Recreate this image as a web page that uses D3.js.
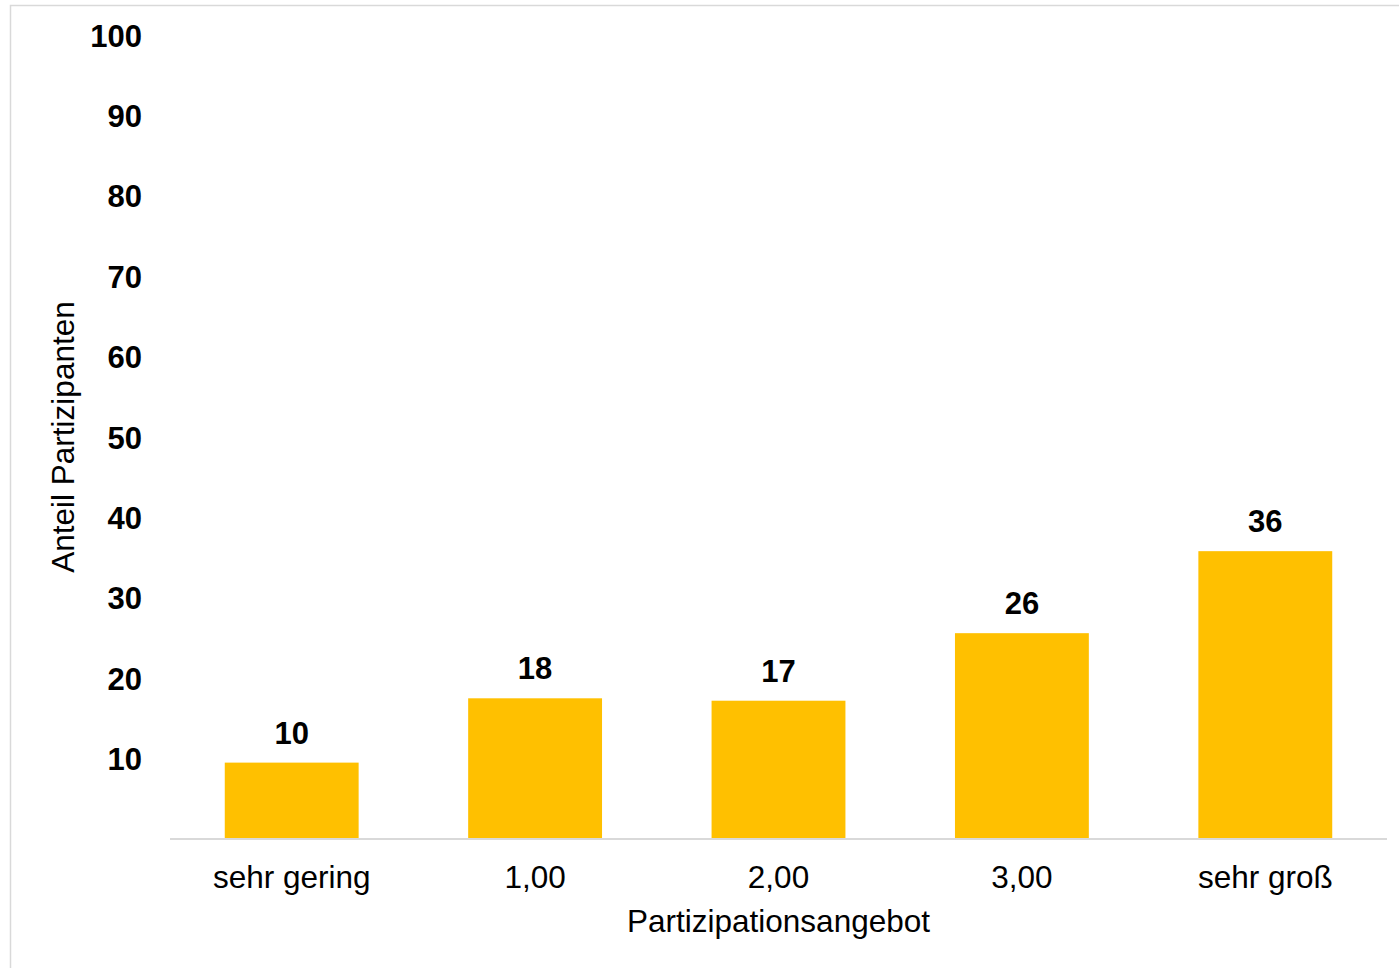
<!DOCTYPE html>
<html>
<head>
<meta charset="utf-8">
<script src="https://cdn.jsdelivr.net/npm/d3@7"></script>
<style>
  body { margin: 0; background: #fff; }
  svg text { font-family: "Liberation Sans", Arial, sans-serif; fill: #000; }
</style>
</head>
<body>
<svg width="1399" height="968"></svg>
<script>
// data
var categories = ["sehr gering", "1,00", "2,00", "3,00", "sehr groß"];
var values = [9.5, 17.5, 17.2, 25.6, 35.8];
var yTicks = [10, 20, 30, 40, 50, 60, 70, 80, 90, 100];

var svg = d3.select("svg"),
  width = +svg.attr("width"),
  height = +svg.attr("height");

var margin = {left: 170, right: 12, top: 35, bottom: 129};

// chart border
svg.append("rect")
  .attr("x", 10.5).attr("y", 5.5)
  .attr("width", 1420).attr("height", 1000)
  .attr("fill", "none")
  .attr("stroke", "#d9d9d9")
  .attr("stroke-width", 1.5);

var x = d3.scaleBand()
  .domain(categories)
  .range([margin.left, width - margin.right])
  .paddingInner(0.45)
  .paddingOuter(0.225);

var y = d3.scaleLinear()
  .domain([0, 100])
  .range([height - margin.bottom, margin.top]);

// y axis: labels only
var yAxis = svg.append("g")
  .attr("transform", "translate(" + (margin.left - 28) + ",0)")
  .call(d3.axisLeft(y).tickValues(yTicks).tickSize(0).tickPadding(0));
yAxis.select(".domain").remove();
yAxis.selectAll("text")
  .attr("font-family", null)
  .style("font-size", "31px")
  .style("font-weight", "bold")
  .attr("dy", "0.36em");

// bars
svg.append("g")
  .selectAll("rect")
  .data(values)
  .enter()
  .append("rect")
    .attr("x", function(d, i) { return x(categories[i]); })
    .attr("y", function(d) { return y(d); })
    .attr("width", x.bandwidth())
    .attr("height", function(d) { return y(0) - y(d); })
    .attr("fill", "#FFC000");

// value labels
svg.append("g")
  .selectAll("text")
  .data(values)
  .enter()
  .append("text")
    .attr("x", function(d, i) { return x(categories[i]) + x.bandwidth() / 2; })
    .attr("y", function(d) { return y(d) - 19; })
    .attr("text-anchor", "middle")
    .style("font-size", "31px")
    .style("font-weight", "bold")
    .text(function(d) { return Math.round(d); });

// x axis
var xAxis = svg.append("g")
  .attr("transform", "translate(0," + y(0) + ")")
  .call(d3.axisBottom(x).tickSize(0).tickPadding(0));
xAxis.select(".domain")
  .attr("stroke", "#d9d9d9")
  .attr("stroke-width", 2)
  .attr("d", "M" + margin.left + ",0H" + (width - margin.right));
xAxis.selectAll("text")
  .attr("font-family", null)
  .attr("y", 49)
  .attr("dy", 0)
  .style("font-size", "31.5px");

// axis titles
svg.append("text")
  .attr("x", (margin.left + width - margin.right) / 2)
  .attr("y", 932)
  .attr("text-anchor", "middle")
  .style("font-size", "31.5px")
  .text("Partizipationsangebot");

svg.append("text")
  .attr("transform", "translate(74,437) rotate(-90)")
  .attr("text-anchor", "middle")
  .style("font-size", "31.5px")
  .text("Anteil Partizipanten");
</script>
</body>
</html>
